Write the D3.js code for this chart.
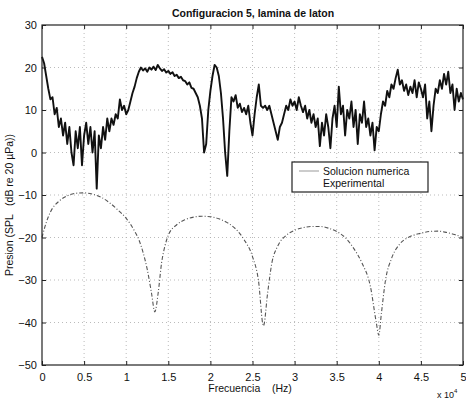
<!DOCTYPE html>
<html>
<head>
<meta charset="utf-8">
<title>Configuracion 5, lamina de laton</title>
<script src="https://d3js.org/d3.v7.min.js"></script>
<style>
  body { margin: 0; background: #fff; }
  text { font-family: "Liberation Sans", Arial, sans-serif; fill: #111; }
</style>
</head>
<body>
<div id="chart"></div>
<script>

// experimental curve, one value every 0.025 (x 10^4 Hz), 0 .. 5
var expStep = 0.025;
var expValues = [
  22.5, 21, 18, 15, 12.5, 13, 9, 10.5, 6, 8, 4, 7, 2, 6, 0, -3, 5, 1, 6, -3,
  4, 7, 2, 6, 0, 5, -8.5, 4, 1, 6, 3, 8, 5, 8, 6.5, 9, 8, 12.5, 10, 11,
  9, 10, 12, 14, 15.5, 17.5, 19, 20, 19.3, 19.8, 19, 20, 19.5, 20.2, 19.4, 20.6, 19.8, 19.2, 19.6, 18.8,
  19.2, 18.5, 18.9, 18, 18.3, 17.5, 17.8, 17, 16.8, 16, 16.5, 15.2, 15, 14, 13, 11, 8, 0, 2, 10,
  14.5, 18, 20.6, 20, 18, 14, 8, 0, -5.5, 5, 13, 12, 13.5, 10.5, 11.5, 9.5, 10.5, 9, 11, 7,
  4, 9, 13, 16, 11, 10.5, 11, 10, 11, 9, 7, 5, 3, 6, 7, 9, 11, 10, 12.5, 11,
  12, 10, 13, 11, 9.5, 11, 8, 10, 7, 9, 6, 8, 1.5, 7, 4, 9, 6, 1, 8, 11,
  6, 15.5, 9, 11, 4, 10, 8, 12, 6, 10, 2, 9, 7, 12, 6, 8, 4, 7, 0.5, 6,
  5, 9, 12, 11, 14.5, 13, 16, 15, 17.5, 19.5, 16, 17, 14.5, 16, 13.5, 15.5, 14, 17, 13, 16.5,
  15, 13, 16, 8, 12, 5, 11, 15, 14, 17, 15, 18.5, 16, 19, 14, 16, 10, 15, 12, 14,
  12.5
];

// numerical solution
var numFreq = [0, 0.05, 0.1, 0.2, 0.3, 0.4, 0.5, 0.6, 0.7, 0.8, 0.9, 1.0, 1.1, 1.15, 1.2, 1.25, 1.3, 1.34, 1.38, 1.42,
  1.46, 1.5, 1.6, 1.7, 1.8, 1.9, 2.0, 2.1, 2.2, 2.3, 2.4, 2.5, 2.57, 2.63, 2.68, 2.73, 2.8, 2.9, 3.0, 3.1,
  3.2, 3.3, 3.4, 3.5, 3.6, 3.7, 3.8, 3.9, 3.97, 4.0, 4.03, 4.08, 4.15, 4.25, 4.35, 4.5, 4.6, 4.7, 4.8, 4.9, 5.0];
var numValues = [-20, -16.5, -14, -11.5, -10.2, -9.6, -9.5, -9.8, -10.5, -11.8, -13.5, -15.5, -18.5, -20.5, -23.5, -27.5, -33, -37.5, -33, -26,
  -22, -19.5, -17, -15.8, -15.2, -15, -15.1, -15.6, -16.5, -18, -20.5, -24.5, -30, -40.8, -33, -26, -22, -19.5, -18.3, -17.7,
  -17.4, -17.4, -17.8, -18.6, -20, -22.5, -26, -31.5, -40, -43, -38, -30, -25, -21.5, -20, -19, -18.6, -18.5, -18.8, -19.3, -20];

var xTicks = [0, 0.5, 1, 1.5, 2, 2.5, 3, 3.5, 4, 4.5, 5];
var yTicks = [30, 20, 10, 0, -10, -20, -30, -40, -50];

var W = 466, H = 400;
var margin = {top: 25, right: 3, bottom: 35, left: 42},
    width = W - margin.left - margin.right,
    height = H - margin.top - margin.bottom;

var svg = d3.select("#chart").append("svg")
    .attr("width", W)
    .attr("height", H);

var g = svg.append("g")
    .attr("transform", "translate(" + margin.left + "," + margin.top + ")");

var x = d3.scaleLinear().domain([0, 5]).range([0, width]);
var y = d3.scaleLinear().domain([-50, 30]).range([height, 0]);

// grid
g.selectAll(".gx").data(xTicks.slice(1, -1)).enter().append("line")
    .attr("x1", function(d) { return x(d); }).attr("x2", function(d) { return x(d); })
    .attr("y1", 0).attr("y2", height)
    .attr("stroke", "#aaa").attr("stroke-width", 0.8).attr("stroke-dasharray", "1,3");
g.selectAll(".gy").data(yTicks.slice(1, -1)).enter().append("line")
    .attr("y1", function(d) { return y(d); }).attr("y2", function(d) { return y(d); })
    .attr("x1", 0).attr("x2", width)
    .attr("stroke", "#aaa").attr("stroke-width", 0.8).attr("stroke-dasharray", "1,3");

// curves
var expData = expValues.map(function(v, i) { return [i * expStep, v]; });
var numData = numFreq.map(function(f, i) { return [f, numValues[i]]; });

var line = d3.line()
    .x(function(d) { return x(d[0]); })
    .y(function(d) { return y(d[1]); });

g.append("path")
    .datum(numData)
    .attr("fill", "none")
    .attr("stroke", "#555")
    .attr("stroke-width", 1.1)
    .attr("stroke-dasharray", "4,2,1,2")
    .attr("d", line.curve(d3.curveMonotoneX));

g.append("path")
    .datum(expData)
    .attr("fill", "none")
    .attr("stroke", "#111")
    .attr("stroke-width", 1.9)
    .attr("stroke-linejoin", "round")
    .attr("d", line.curve(d3.curveLinear));

// axes, matlab style: ticks inside, box on all sides
g.append("rect")
    .attr("width", width).attr("height", height)
    .attr("fill", "none").attr("stroke", "#222").attr("stroke-width", 1.2);

g.append("g")
    .attr("transform", "translate(0," + height + ")")
    .call(d3.axisBottom(x).tickValues(xTicks).tickSize(-4).tickPadding(8).tickFormat(d3.format("")));
g.append("g")
    .call(d3.axisLeft(y).tickValues(yTicks).tickSize(-4).tickPadding(5));
g.append("g")
    .call(d3.axisTop(x).tickValues(xTicks).tickSize(-4).tickFormat(""));
g.append("g")
    .attr("transform", "translate(" + width + ",0)")
    .call(d3.axisRight(y).tickValues(yTicks).tickSize(-4).tickFormat(""));

g.selectAll(".domain").remove();
g.selectAll(".tick line").attr("stroke", "#222");
g.selectAll(".tick text")
    .style("font-size", "11px")
    .style("font-family", "Liberation Sans, Arial, sans-serif")
    .attr("fill", "#111");

// labels
svg.append("text")
    .attr("x", 253).attr("y", 17)
    .attr("text-anchor", "middle")
    .style("font-size", "10.5px").style("font-weight", "bold")
    .text("Configuracion 5, lamina de laton");

svg.append("text")
    .attr("x", 250).attr("y", 392)
    .attr("text-anchor", "middle")
    .style("font-size", "10.5px")
    .attr("xml:space", "preserve")
    .text("Frecuencia    (Hz)");

svg.append("text")
    .attr("x", 437).attr("y", 398)
    .style("font-size", "9px")
    .text("x 10")
  .append("tspan")
    .attr("dy", -5).style("font-size", "6px")
    .text("4");

svg.append("text")
    .attr("transform", "translate(13," + 205 + ") rotate(-90)")
    .attr("text-anchor", "middle")
    .style("font-size", "10.5px")
    .attr("xml:space", "preserve")
    .text("Presion (SPL   (dB re 20 \u00b5Pa))");

// legend
var leg = svg.append("g").attr("transform", "translate(292,162)");
leg.append("rect")
    .attr("width", 136).attr("height", 30)
    .attr("fill", "#fff").attr("stroke", "#222").attr("stroke-width", 1.2);
leg.append("line")
    .attr("x1", 7).attr("x2", 27).attr("y1", 9).attr("y2", 9)
    .attr("stroke", "#999").attr("stroke-width", 1);
leg.append("text")
    .attr("x", 31).attr("y", 13)
    .style("font-size", "10.5px")
    .text("Solucion numerica");
leg.append("text")
    .attr("x", 31).attr("y", 25)
    .style("font-size", "10.5px")
    .text("Experimental");

</script>
</body>
</html>
